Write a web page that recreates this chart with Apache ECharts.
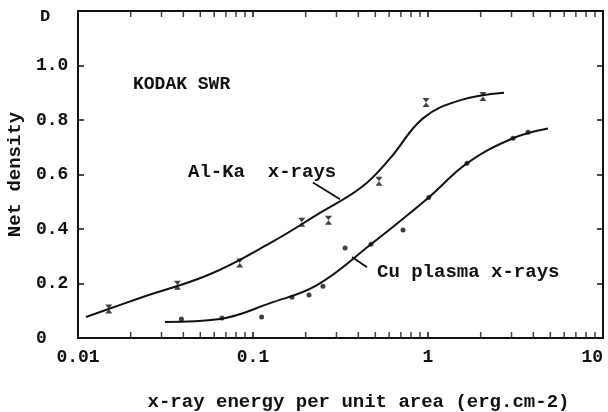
<!DOCTYPE html>
<html><head><meta charset="utf-8">
<script src="https://cdn.jsdelivr.net/npm/echarts@6/dist/echarts.min.js"></script>
<style>html,body{margin:0;background:#fff}#c{width:608px;height:412px}</style>
</head><body><div id="c"></div>
<script>
// ---- data ----
const alPointX = [0.015, 0.037, 0.084, 0.19, 0.27, 0.525, 0.975, 2.06];
const alPointY = [0.106, 0.194, 0.275, 0.425, 0.432, 0.575, 0.864, 0.886];
const alCurveX = [0.0111, 0.0226, 0.0567, 0.125, 0.24, 0.42, 0.607, 0.936, 1.52, 2.72];
const alCurveY = [0.077, 0.147, 0.234, 0.348, 0.458, 0.555, 0.659, 0.806, 0.872, 0.90];
const cuPointX = [0.039, 0.0665, 0.112, 0.167, 0.209, 0.251, 0.336, 0.472, 0.72, 1.01, 1.67, 3.06, 3.73];
const cuPointY = [0.07, 0.073, 0.077, 0.15, 0.158, 0.19, 0.33, 0.344, 0.396, 0.516, 0.641, 0.733, 0.755];
const cuCurveX = [0.0314, 0.0647, 0.125, 0.232, 0.472, 1.01, 1.67, 3.06, 4.85];
const cuCurveY = [0.059, 0.070, 0.128, 0.194, 0.344, 0.516, 0.641, 0.733, 0.769];
const xTickValues = [0.01, 0.1, 1, 10];
const xTickLabels = ['0.01', '0.1', '1', '10'];
const xMinorTicks = [0.02,0.03,0.04,0.05,0.06,0.07,0.08,0.09,0.2,0.3,0.4,0.5,0.6,0.7,0.8,0.9,2,3,4,5,6,7,8,9];
const yTickValues = [0, 0.2, 0.4, 0.6, 0.8, 1.0, 1.2];
const yTickLabels = ['0', '0.2', '0.4', '0.6', '0.8', '1.0', 'D'];
const alLeader = [[0.22, 0.571], [0.314, 0.509]];
const cuLeader = [[0.368, 0.297], [0.448, 0.26]];
const labelKodak = 'KODAK SWR';
const labelAl = 'Al-Ka  x-rays';
const labelCu = 'Cu plasma x-rays';
const xTitle = 'x-ray energy per unit area (erg.cm-2)';
const yTitle = 'Net density';

// ---- chart ----
const ink = '#111';
const FONT = 'Liberation Mono';
const zip = (a, b) => a.map((v, i) => [v, b[i]]);
const chart = echarts.init(document.getElementById('c'), null, {renderer: 'canvas'});
const axisLine = {show: true, onZero: false, lineStyle: {color: ink, width: 2}};
const tick = {show: true, inside: true, length: 6, lineStyle: {color: ink, width: 1.5}};
const hourglass = 'path://M0,0L10,0L5,5L10,10L0,10L5,5Z';

chart.setOption({
  animation: false,
  backgroundColor: '#fff',
  grid: {left: 78, right: 5, top: 11, bottom: 74, containLabel: false, outerBoundsMode: 'none'},
  xAxis: [
    {type: 'log', logBase: 10, min: 0.01, max: 10, position: 'bottom',
     axisLine, axisTick: tick, splitLine: {show: false}, minorTick: {show: false},
     axisLabel: {margin: 10, color: ink, fontFamily: FONT, fontWeight: 'bold', fontSize: 18, alignMaxLabel: 'right',
       formatter: v => { const i = xTickValues.findIndex(t => Math.abs(Math.log10(t) - Math.log10(v)) < 1e-6); return i >= 0 ? xTickLabels[i] : ''; }},
     name: xTitle, nameLocation: 'middle', nameGap: 55,
     nameTextStyle: {color: ink, fontFamily: FONT, fontWeight: 'bold', fontSize: 19, padding: [0, 0, 0, 36]}},
    {type: 'log', logBase: 10, min: 0.01, max: 10, position: 'top',
     axisLine, axisTick: tick, axisLabel: {show: false}, splitLine: {show: false}}
  ],
  yAxis: [
    {type: 'value', min: 0, max: 1.2, interval: 0.2, position: 'left',
     axisLine, axisTick: tick, splitLine: {show: false},
     axisLabel: {align: 'left', margin: 42, color: ink, fontFamily: FONT, fontWeight: 'bold', fontSize: 18,
       formatter: v => { const i = yTickValues.findIndex(t => Math.abs(t - v) < 1e-6); if (i < 0) return ''; return i === yTickValues.length - 1 ? '{d|' + yTickLabels[i] + '}' : yTickLabels[i]; },
       rich: {d: {fontFamily: FONT, fontWeight: 'bold', fontSize: 17, color: ink, padding: [12, 0, 0, 4]}}},
     name: yTitle, nameLocation: 'middle', nameGap: 52, nameRotate: 90,
     nameTextStyle: {color: ink, fontFamily: FONT, fontWeight: 'bold', fontSize: 19}},
    {type: 'value', min: 0, max: 1.2, interval: 0.2, position: 'right',
     axisLine, axisTick: tick, axisLabel: {show: false}, splitLine: {show: false}}
  ],
  series: [
    {type: 'line', name: 'Al-Ka curve', data: zip(alCurveX, alCurveY), smooth: 0.4, symbol: 'none',
     lineStyle: {color: ink, width: 2}, silent: true,
     markLine: {silent: true, symbol: 'none', label: {show: false}, lineStyle: {color: ink, width: 1.8, type: 'solid'},
       data: [[{coord: alLeader[0]}, {coord: alLeader[1]}]]}},
    {type: 'line', name: 'Cu curve', data: zip(cuCurveX, cuCurveY), smooth: 0.4, symbol: 'none',
     lineStyle: {color: ink, width: 2}, silent: true,
     markLine: {silent: true, symbol: 'none', label: {show: false}, lineStyle: {color: ink, width: 1.8, type: 'solid'},
       data: [[{coord: cuLeader[0]}, {coord: cuLeader[1]}]]}},
    {type: 'scatter', name: 'Al-Ka x-rays', data: zip(alPointX, alPointY), symbol: hourglass, symbolSize: [7, 9],
     itemStyle: {color: ink}},
    {type: 'scatter', name: 'Cu plasma x-rays', data: zip(cuPointX, cuPointY), symbol: 'circle', symbolSize: 5,
     itemStyle: {color: ink}},
    {type: 'scatter', name: 'minor bottom', data: xMinorTicks.map(v => [v, 0]), symbol: 'rect', symbolSize: [1.5, 6],
     symbolOffset: [0, -3], itemStyle: {color: ink}, silent: true, clip: false},
    {type: 'scatter', name: 'minor top', data: xMinorTicks.map(v => [v, 1.2]), symbol: 'rect', symbolSize: [1.5, 6],
     symbolOffset: [0, 3], itemStyle: {color: ink}, silent: true, clip: false}
  ],
  graphic: [
    {type: 'text', x: 133, y: 84, style: {text: labelKodak, fill: ink, font: 'bold 18px "Liberation Mono"', verticalAlign: 'middle', align: 'left'}},
    {type: 'text', x: 188, y: 172, style: {text: labelAl, fill: ink, font: 'bold 19px "Liberation Mono"', verticalAlign: 'middle', align: 'left'}},
    {type: 'text', x: 377, y: 272, style: {text: labelCu, fill: ink, font: 'bold 19px "Liberation Mono"', verticalAlign: 'middle', align: 'left'}}
  ]
});
</script></body></html>
